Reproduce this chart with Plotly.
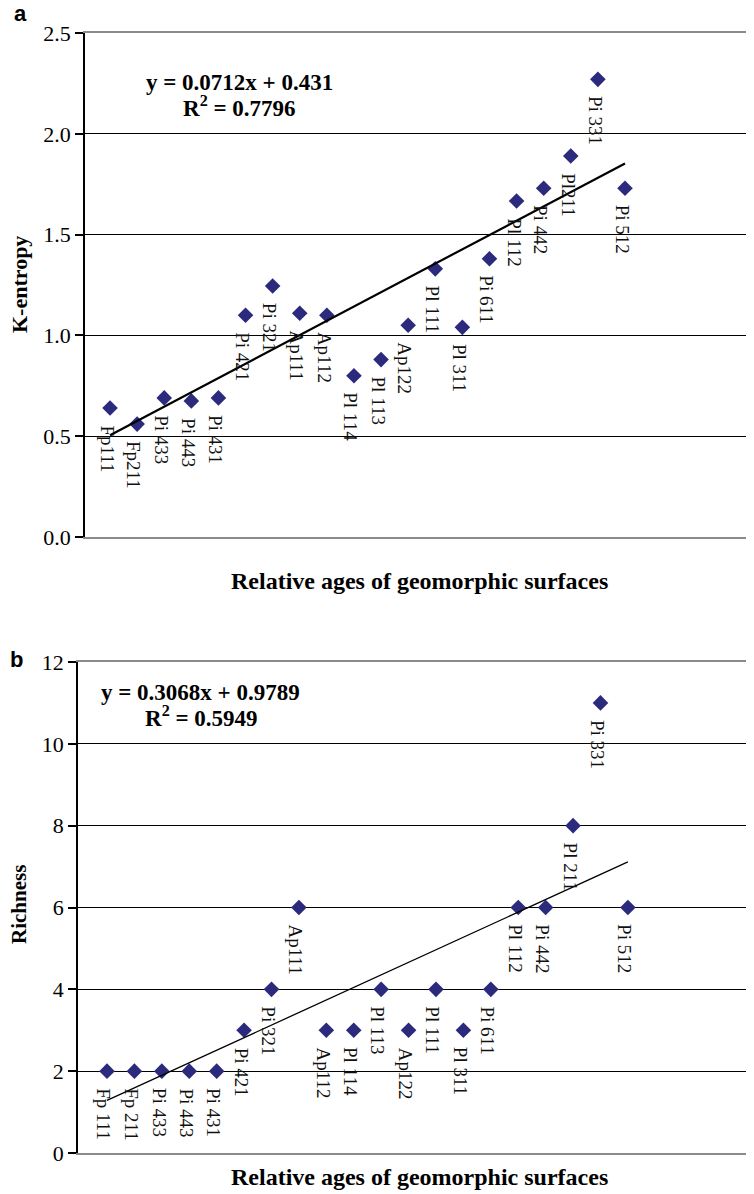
import numpy as np
import plotly.graph_objects as go

# ---------------- data ----------------
surfaces_a = ["Fp111", "Fp211", "Pi 433", "Pi 443", "Pi 431", "Pi 421", "Pi 321",
              "Ap111", "Ap112", "Pl 114", "Pl 113", "Ap122", "Pl 111", "Pl 311",
              "Pi 611", "Pl 112", "Pi 442", "Pl211", "Pi 331", "Pi 512"]
surfaces_b = ["Fp 111", "Fp 211", "Pi 433", "Pi 443", "Pi 431", "Pi 421", "Pi 321",
              "Ap111", "Ap112", "Pl 114", "Pl 113", "Ap122", "Pl 111", "Pl 311",
              "Pi 611", "Pl 112", "Pi 442", "Pl 211", "Pi 331", "Pi 512"]
age_rank = list(range(1, 21))
k_entropy = [0.64, 0.56, 0.69, 0.675, 0.69, 1.10, 1.245, 1.11, 1.10, 0.80,
             0.88, 1.05, 1.33, 1.04, 1.38, 1.667, 1.73, 1.89, 2.27, 1.73]
richness = [2, 2, 2, 2, 2, 3, 4, 6, 3, 3, 4, 3, 4, 3, 4, 6, 6, 8, 11, 6]
ticks_a = [0.0, 0.5, 1.0, 1.5, 2.0, 2.5]
ticklabels_a = ["0.0", "0.5", "1.0", "1.5", "2.0", "2.5"]
ticks_b = [0, 2, 4, 6, 8, 10, 12]
eq_a = ["y = 0.0712x + 0.431", "R<sup>2</sup> = 0.7796"]
eq_b = ["y = 0.3068x + 0.9789", "R<sup>2</sup> = 0.5949"]

# page body has an 8px margin: lay out in screen pixels and convert
OFF = 8
W, H = 754 - OFF, 1194 - OFF
SERIF = "Liberation Serif"
MARK = "#2B2A7C"

def fx(px):
    return (px - OFF) / W

def fy(py):
    return 1 - (py - OFF) / H

fig = go.Figure()

x = np.array(age_rank, dtype=float)
for yv, xa, ya, lw in [(k_entropy, "x", "y", 2.2), (richness, "x2", "y2", 1.3)]:
    fig.add_trace(go.Scatter(x=age_rank, y=yv, mode="markers", xaxis=xa, yaxis=ya,
                             marker=dict(symbol="diamond", size=12, color=MARK),
                             showlegend=False, hoverinfo="skip"))
    slope, icpt = np.polyfit(x, np.array(yv, dtype=float), 1)
    xl = np.array([x.min(), x.max()])
    fig.add_trace(go.Scatter(x=xl, y=slope * xl + icpt, mode="lines", xaxis=xa, yaxis=ya,
                             line=dict(color="black", width=lw),
                             showlegend=False, hoverinfo="skip"))

annotations = []
for names, yv, xr, yr in [(surfaces_a, k_entropy, "x", "y"), (surfaces_b, richness, "x2", "y2")]:
    for xi, yi, nm in zip(age_rank, yv, names):
        annotations.append(dict(x=xi, y=yi, xref=xr, yref=yr, text=nm, textangle=90,
                                showarrow=False, xanchor="center", yanchor="top",
                                yshift=-15, xshift=-3,
                                font=dict(family=SERIF, size=19, color="#111111")))

def pt(px, py, text, size, bold=False, family=SERIF, angle=0, xanchor="center"):
    return dict(x=fx(px), y=fy(py), xref="paper", yref="paper",
                text=(f"<b>{text}</b>" if bold else text),
                showarrow=False, xanchor=xanchor, yanchor="middle", textangle=angle,
                font=dict(family=family, size=size, color="black"))

annotations += [
    pt(20, 13, "a", 22, True, "Liberation Sans"),
    pt(16, 659, "b", 22, True, "Liberation Sans"),
    pt(239, 82, eq_a[0], 23, True),
    pt(239, 107, eq_a[1], 23, True),
    pt(200, 692, eq_b[0], 23, True),
    pt(201, 717, eq_b[1], 23, True),
    pt(19, 285, "K-entropy", 22, True, angle=-90),
    pt(19, 905, "Richness", 21, True, angle=-90),
    pt(419, 581, "Relative ages of geomorphic surfaces", 24, True),
    pt(419, 1177, "Relative ages of geomorphic surfaces", 24, True),
]

common_x = dict(showgrid=False, zeroline=False, showticklabels=False, ticks="",
                showline=True, linecolor="#8a8a8a", linewidth=2, mirror=True,
                automargin=False)
common_y = dict(showgrid=True, gridcolor="black", gridwidth=1, zeroline=False,
                showline=True, linecolor="black", linewidth=1.5,
                ticks="outside", ticklen=8, tickcolor="black", tickwidth=1.5,
                tickfont=dict(family=SERIF, size=22, color="black"),
                automargin=False)

fig.update_layout(
    width=W, height=H, margin=dict(l=0, r=0, t=0, b=0, autoexpand=False),
    paper_bgcolor="white", plot_bgcolor="white",
    xaxis=dict(domain=[fx(85), 1.0], range=[0.077, 24.76], anchor="y", **common_x),
    yaxis=dict(domain=[fy(537), fy(33)], range=[0, 2.5], anchor="x",
               tickvals=ticks_a, ticktext=ticklabels_a, **common_y),
    xaxis2=dict(domain=[fx(78), 1.0], range=[-0.058, 24.6], anchor="y2", **common_x),
    yaxis2=dict(domain=[fy(1153), fy(662)], range=[0, 12], anchor="x2",
                tickvals=ticks_b, **common_y),
    annotations=annotations,
)

fig.write_html("out.html")
